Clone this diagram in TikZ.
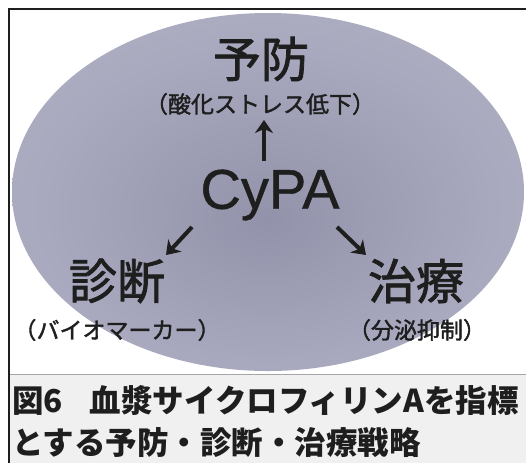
\documentclass[tikz,border=0pt]{standalone}
\usepackage{fontspec}
\setmainfont{Liberation Sans}
\newfontfamily\jp{Noto Sans CJK JP}
\newfontfamily\jpm{Noto Sans CJK JP}[FakeBold=1.6]
\newfontfamily\cypafont{Liberation Sans}[FakeBold=0.8]
\usetikzlibrary{arrows.meta}
\definecolor{inner}{RGB}{146,146,170}
\definecolor{midc}{RGB}{168,168,190}
\definecolor{outer}{RGB}{192,192,208}
\definecolor{capbg}{RGB}{240,240,240}
\definecolor{ink}{RGB}{30,30,30}
\pgfdeclareradialshading{ellsh}{\pgfpoint{0bp}{-4bp}}{color(0bp)=(inner); color(22bp)=(midc); color(50bp)=(outer)}
\tikzset{
  big/.style={font=\jpm\fontsize{48}{48}\selectfont, text=ink, inner sep=0pt},
  sub/.style={font=\jpm\fontsize{23}{23}\selectfont, text=ink, inner sep=0pt},
  captxt/.style={font=\jp\bfseries\fontsize{31.5}{32}\selectfont, text=ink, inner sep=0pt, anchor=west},
  arr/.style={-{Stealth[length=13pt,width=18pt,inset=4pt]}, line width=4pt, draw=ink},
}
\begin{document}
\begin{tikzpicture}[x=1pt,y=-1pt]
\useasboundingbox (0,0) rectangle (526,463);
\fill[white] (0,0) rectangle (526,463);
% caption background
\fill[capbg] (9,374) rectangle (526,463);
\draw[gray!70, line width=0.8pt] (9,374) -- (526,374);
% ellipse
\shade[shading=ellsh] (268,192) ellipse [x radius=256, y radius=179];
% frame
\draw[ink, line width=1.8pt] (9,463) -- (9,9) -- (526,9);
% labels
\node[big] (yobo) at (261,59) {予防};
\node[sub] (yobosub) at (260,104) {（酸化ストレス低下）};
\node[font=\cypafont\fontsize{56}{56}\selectfont, text=ink, inner sep=0pt] (cypa) at (270,195) {CyPA};
\node[big] (shindan) at (117,281) {診断};
\node[sub] (shindansub) at (117,330) {（バイオマーカー）};
\node[big] (chiryo) at (416,281) {治療};
\node[sub] (chiryosub) at (417,330) {（分泌抑制）};
% arrow endpoints
\coordinate (u0) at (264,161);
\coordinate (u1) at (264,120);
\coordinate (l0) at (192,227);
\coordinate (l1) at (166,255);
\coordinate (r0) at (337,227);
\coordinate (r1) at (366,255);
\draw[arr] (u0) -- (u1);
\draw[arr] (l0) -- (l1);
\draw[arr] (r0) -- (r1);
% caption
\node[captxt] (cap1) at (12,401) {図6\hspace{0.85em}血漿サイクロフィリンAを指標};
\node[captxt] (cap2) at (12,443) {とする予防・診断・治療戦略};
\end{tikzpicture}
\end{document}
